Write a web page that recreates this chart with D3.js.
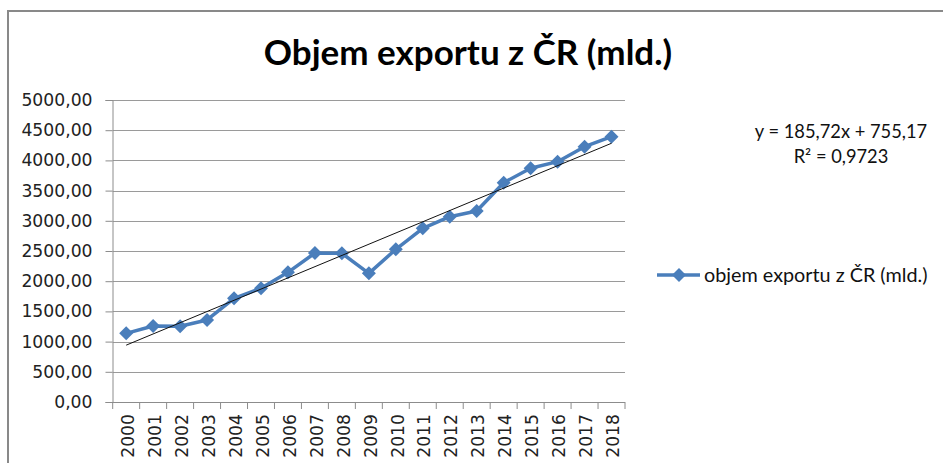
<!DOCTYPE html>
<html>
<head>
<meta charset="utf-8">
<script src="https://cdn.jsdelivr.net/npm/d3@7"></script>
<style>
    body { margin: 0; background: #fff; }
    svg { display: block; }
</style>
</head>
<body>
<div id="chart"></div>
<script>
// roky a objem exportu (mld.)
const years = ["2000", "2001", "2002", "2003", "2004", "2005", "2006", "2007", "2008", "2009",
    "2010", "2011", "2012", "2013", "2014", "2015", "2016", "2017", "2018"];
const exportValues = [1137, 1258, 1255, 1358, 1717, 1882, 2147, 2467, 2462, 2130,
    2528, 2876, 3068, 3162, 3631, 3869, 3979, 4227, 4392];
const yTicks = [0, 500, 1000, 1500, 2000, 2500, 3000, 3500, 4000, 4500, 5000];
// lineární trend: y = 185,72x + 755,17
const trendCoef = [185.72, 755.17];
const trendLabels = ["y = 185,72x + 755,17", "R² = 0,9723"];
const seriesName = "objem exportu z ČR (mld.)";
const title = "Objem exportu z ČR (mld.)";

const width = 943, height = 463;
const blue = "#4a7ebb";

const svg = d3.select("#chart").append("svg")
    .attr("width", width)
    .attr("height", height);

// ramecek grafu
svg.append("rect")
    .attr("x", 8).attr("y", 11)
    .attr("width", 950).attr("height", 470)
    .attr("fill", "#fff")
    .attr("stroke", "#898989")
    .attr("stroke-width", 2);

const x = d3.scaleBand()
    .domain(years)
    .range([112.7, 625]);

const y = d3.scaleLinear()
    .domain([0, 5000])
    .range([402, 100]);

const locale = d3.formatLocale({ decimal: ",", thousands: "", grouping: [3], currency: ["", ""] });
const fmt = locale.format(".2f");

// gridlines
svg.append("g")
    .selectAll("line")
    .data(yTicks.slice(1))
    .enter().append("line")
    .attr("x1", x.range()[0]).attr("x2", x.range()[1])
    .attr("y1", d => Math.round(y(d)) + 0.5)
    .attr("y2", d => Math.round(y(d)) + 0.5)
    .attr("stroke", "#9a9a9a")
    .attr("stroke-width", 1);

// osa y
const yAxis = svg.append("g")
    .attr("transform", "translate(112.5,0)")
    .call(d3.axisLeft(y).tickValues(yTicks).tickFormat(fmt).tickSize(7).tickPadding(13));
yAxis.select(".domain").attr("stroke", "#8c8c8c");
yAxis.selectAll(".tick line").attr("stroke", "#8c8c8c");
yAxis.selectAll("text")
    .attr("fill", "#222")
    .style("font-family", "'DejaVu Sans', Verdana, sans-serif")
    .style("font-size", "17.2px");

// osa x
const xAxis = svg.append("g");
xAxis.append("line")
    .attr("x1", x.range()[0]).attr("x2", x.range()[1])
    .attr("y1", 402.5).attr("y2", 402.5)
    .attr("stroke", "#8c8c8c");
xAxis.selectAll(".xtick")
    .data(years.concat(["end"]))
    .enter().append("line")
    .attr("class", "xtick")
    .attr("x1", d => d === "end" ? x.range()[1] : x(d))
    .attr("x2", d => d === "end" ? x.range()[1] : x(d))
    .attr("y1", 402).attr("y2", 409)
    .attr("stroke", "#8c8c8c");
xAxis.selectAll(".xlabel")
    .data(years)
    .enter().append("text")
    .attr("class", "xlabel")
    .attr("transform", d => "translate(" + (x(d) + x.bandwidth() / 2 + 1.5) + ",414) rotate(-90)")
    .attr("dy", "0.36em")
    .attr("text-anchor", "end")
    .attr("fill", "#222")
    .style("font-family", "'DejaVu Sans', Verdana, sans-serif")
    .style("font-size", "17.2px")
    .text(d => d);

const cx = d => x(d) + x.bandwidth() / 2;

// data line
const line = d3.line()
    .x((d, i) => cx(years[i]))
    .y(d => y(d));

svg.append("path")
    .datum(exportValues)
    .attr("d", line)
    .attr("fill", "none")
    .attr("stroke", blue)
    .attr("stroke-width", 3.5)
    .attr("stroke-linejoin", "round");

const diamond = "M0,-7L7,0L0,7L-7,0Z";
svg.append("g")
    .selectAll("path")
    .data(exportValues)
    .enter().append("path")
    .attr("d", diamond)
    .attr("transform", (d, i) => "translate(" + cx(years[i]) + "," + y(d) + ")")
    .attr("fill", blue);

// trendline
const trend = [1, years.length];
svg.append("line")
    .attr("x1", cx(years[trend[0] - 1]))
    .attr("y1", y(trendCoef[0] * trend[0] + trendCoef[1]))
    .attr("x2", cx(years[trend[1] - 1]))
    .attr("y2", y(trendCoef[0] * trend[1] + trendCoef[1]))
    .attr("stroke", "#111")
    .attr("stroke-width", 1);

// title
svg.append("text")
    .attr("x", 468).attr("y", 65)
    .attr("text-anchor", "middle")
    .style("font-family", "Lato, 'Open Sans', sans-serif")
    .style("font-weight", "bold")
    .style("font-size", "35px")
    .text(title);

// rovnice trendu
svg.selectAll(".eq")
    .data(trendLabels)
    .enter().append("text")
    .attr("class", "eq")
    .attr("x", 841)
    .attr("y", (d, i) => 138 + i * 25)
    .attr("text-anchor", "middle")
    .attr("fill", "#111")
    .style("font-family", "Lato, 'Open Sans', sans-serif")
    .style("font-size", "18.3px")
    .text(d => d);

// legenda
const legend = svg.append("g").attr("transform", "translate(657,275)");
legend.append("line")
    .attr("x1", 0).attr("x2", 43)
    .attr("stroke", blue).attr("stroke-width", 3.5);
legend.append("path")
    .attr("d", diamond)
    .attr("transform", "translate(22,0)")
    .attr("fill", blue);
legend.append("text")
    .attr("x", 47).attr("y", 7)
    .attr("fill", "#111")
    .style("font-family", "Lato, 'Open Sans', sans-serif")
    .style("font-size", "19.8px")
    .text(seriesName);
</script>
</body>
</html>
